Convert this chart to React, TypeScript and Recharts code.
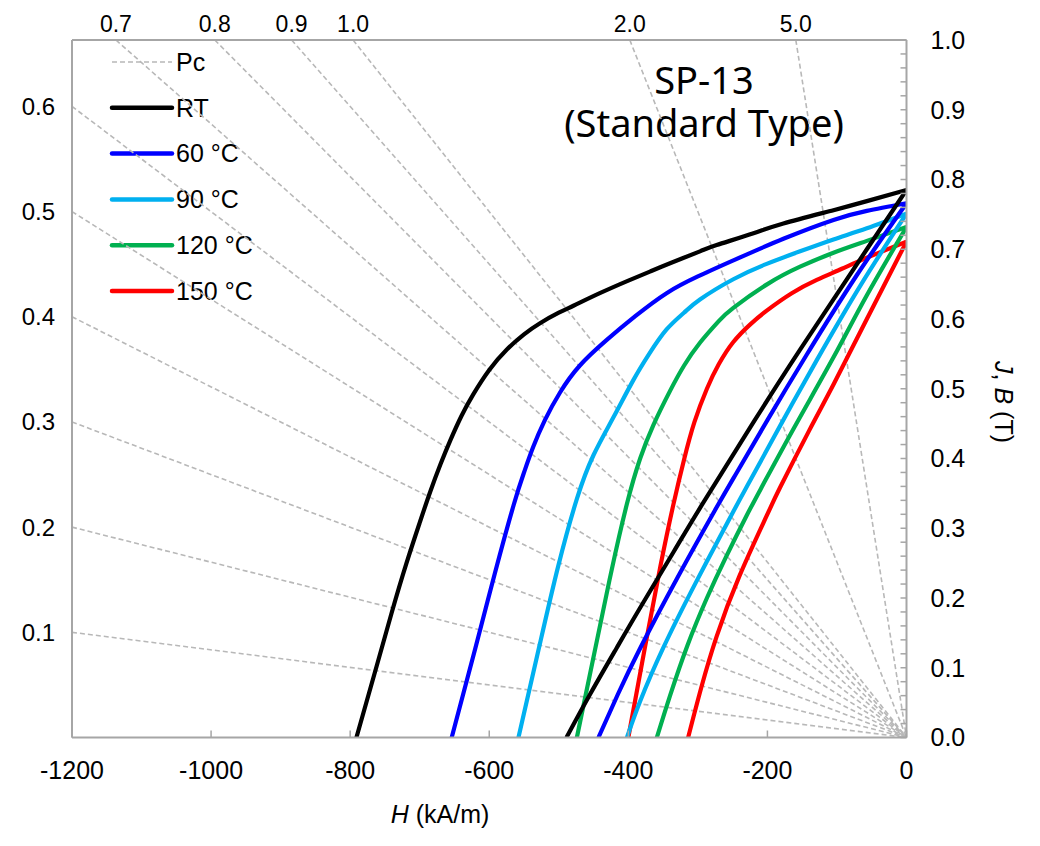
import React from 'react';
import { LineChart, Line, XAxis, YAxis } from 'recharts';

// μ0 in T per (kA/m)
const MU0 = 4 * Math.PI * 1e-4;

const hTicks = [-1200, -1000, -800, -600, -400, -200, 0];
const bTicks = Array.from({ length: 51 }, (_, i) => Number((i * 0.02).toFixed(2)));
const pcLeftTicks = [0.1, 0.2, 0.3, 0.4, 0.5, 0.6];
const pcTopTicks = [0.7, 0.8, 0.9, 1.0, 2.0, 5.0];
const pcValues = [0.1, 0.2, 0.3, 0.4, 0.5, 0.6, 0.7, 0.8, 0.9, 1.0, 2.0, 5.0];

const seriesNames = ['RT', '60 °C', '90 °C', '120 °C', '150 °C'];

// intrinsic J curves [H kA/m, J T]
const jRT = [[-791, 0], [-764, 0.095], [-740, 0.18], [-719, 0.25], [-700, 0.308], [-685, 0.352], [-670, 0.392], [-656, 0.426], [-640, 0.461], [-623, 0.492], [-600, 0.527], [-575, 0.556], [-550, 0.578], [-527, 0.594], [-500, 0.609], [-479, 0.619], [-441, 0.637], [-400, 0.655], [-369, 0.668], [-340, 0.68], [-297, 0.697], [-273, 0.706], [-220, 0.723], [-177, 0.737], [-105, 0.756], [-57, 0.769], [0, 0.785]];
const j60 = [[-654, 0], [-620, 0.128], [-592, 0.235], [-565, 0.333], [-550, 0.38], [-537, 0.416], [-520, 0.455], [-498, 0.495], [-470, 0.533], [-431, 0.57], [-390, 0.604], [-345, 0.637], [-300, 0.661], [-249, 0.684], [-177, 0.715], [-105, 0.742], [-57, 0.755], [0, 0.766]];
const j90 = [[-558, 0], [-527, 0.135], [-501, 0.245], [-474, 0.342], [-450, 0.405], [-422, 0.458], [-393, 0.512], [-370, 0.55], [-345, 0.585], [-320, 0.609], [-297, 0.628], [-249, 0.657], [-201, 0.679], [-153, 0.697], [-105, 0.714], [-57, 0.73], [0, 0.751]];
const j120 = [[-474, 0], [-446, 0.135], [-424, 0.24], [-402, 0.335], [-383, 0.4], [-364, 0.448], [-340, 0.497], [-320, 0.533], [-297, 0.566], [-270, 0.597], [-249, 0.616], [-200, 0.65], [-153, 0.675], [-105, 0.695], [-57, 0.712], [0, 0.732]];
const j150 = [[-400, 0], [-376, 0.13], [-354, 0.245], [-335, 0.335], [-320, 0.398], [-305, 0.452], [-287, 0.5], [-270, 0.535], [-249, 0.567], [-225, 0.592], [-201, 0.612], [-165, 0.637], [-129, 0.656], [-93, 0.672], [-57, 0.688], [0, 0.711]];

// normal B curves [H kA/m, B T]
const bRT = [[-489, 0], [-455, 0.062], [-417, 0.128], [-383, 0.186], [-335, 0.266], [-292, 0.337], [-220, 0.452], [-153, 0.556], [-57, 0.7], [0, 0.785]];
const b60 = [[-443, 0], [-415, 0.062], [-383, 0.128], [-330, 0.228], [-273, 0.33], [-244, 0.38], [-200, 0.455], [-144, 0.548], [-72, 0.662], [0, 0.766]];
const b90 = [[-402, 0], [-383, 0.052], [-350, 0.128], [-303, 0.222], [-249, 0.324], [-225, 0.368], [-180, 0.45], [-129, 0.541], [-65, 0.65], [0, 0.751]];
const b120 = [[-359, 0], [-340, 0.06], [-315, 0.132], [-287, 0.2], [-260, 0.258], [-230, 0.318], [-206, 0.363], [-160, 0.447], [-105, 0.545], [-57, 0.634], [0, 0.732]];
const b150 = [[-314, 0], [-295, 0.072], [-273, 0.145], [-240, 0.232], [-201, 0.318], [-182, 0.358], [-140, 0.44], [-105, 0.506], [-57, 0.6], [0, 0.711]];

const jCurves = [jRT, j60, j90, j120, j150];
const bCurves = [bRT, b60, b90, b120, b150];

const COLORS = ['#000000', '#0000ff', '#00b0f0', '#00b050', '#ff0000'];
const AXIS = '#a6a6a6';
const PC_GRAY = '#b8b8b8';
const ARIAL = "'Liberation Sans', Arial, sans-serif";

const toPts = (arr: number[][]) => arr.map(([h, b]) => ({ h, b }));

// permeance line: from the plot edge to the origin
const pcLine = (pc: number) => {
  const bLeft = pc * MU0 * 1200;
  const edge = bLeft <= 1 ? { h: -1200, b: bLeft } : { h: -1 / (pc * MU0), b: 1 };
  return [edge, { h: 0, b: 0 }];
};

const BottomTick = (props: any) => {
  const { x, y, payload } = props;
  const axisY = y - 24;
  return (
    <g>
      <line x1={x} x2={x} y1={axisY} y2={axisY - 7} stroke={AXIS} strokeWidth={1.5} />
      <text x={x} y={y} dy="0.71em" textAnchor="middle" fontSize={25} fill="#000">
        {payload.value}
      </text>
    </g>
  );
};

const RightTick = (props: any) => {
  const { x, y, payload } = props;
  const v = payload.value;
  const axisX = x - 24;
  const major = Math.abs(v * 10 - Math.round(v * 10)) < 1e-6;
  return (
    <g>
      <line x1={axisX} x2={axisX - 6} y1={y} y2={y} stroke={AXIS} strokeWidth={1.5} />
      {major && (
        <text x={x} y={y} dy="0.355em" textAnchor="start" fontSize={25} fill="#000">
          {v.toFixed(1)}
        </text>
      )}
    </g>
  );
};

export default function App() {
  const legendRows = ['Pc', ...seriesNames];
  return (
    <div style={{ width: 1024, height: 830, fontFamily: ARIAL }}>
      <LineChart width={1024} height={830} margin={{ top: 0, right: 0, bottom: 0, left: 0 }}>
        <XAxis
          xAxisId="bottom"
          type="number"
          dataKey="h"
          domain={[-1200, 0]}
          allowDataOverflow
          ticks={hTicks}
          interval={0}
          height={100.5}
          tickSize={0}
          tickMargin={24}
          tick={<BottomTick />}
          axisLine={{ stroke: AXIS, strokeWidth: 2 }}
          tickLine={false}
        />
        <XAxis
          xAxisId="top"
          orientation="top"
          type="number"
          dataKey="h"
          domain={[-1200, 0]}
          allowDataOverflow
          ticks={pcTopTicks.map((pc) => -1 / (pc * MU0))}
          tickFormatter={(v: number) => (-1 / (v * MU0)).toFixed(1)}
          interval={0}
          height={32}
          tickSize={0}
          tickMargin={8}
          tick={{ fill: '#000', fontSize: 23 }}
          axisLine={{ stroke: AXIS, strokeWidth: 2 }}
          tickLine={false}
        />
        <YAxis
          yAxisId="pc"
          orientation="left"
          type="number"
          domain={[0, 1 / (MU0 * 1200)]}
          allowDataOverflow
          ticks={pcLeftTicks}
          tickFormatter={(v: number) => v.toFixed(1)}
          interval={0}
          width={64}
          tickSize={0}
          tickMargin={17}
          tick={{ fill: '#000', fontSize: 24 }}
          axisLine={{ stroke: AXIS, strokeWidth: 2 }}
          tickLine={false}
        />
        <YAxis
          yAxisId="b"
          orientation="right"
          type="number"
          domain={[0, 1]}
          allowDataOverflow
          ticks={bTicks}
          interval={0}
          width={125.5}
          tickSize={0}
          tickMargin={24}
          tick={<RightTick />}
          axisLine={{ stroke: AXIS, strokeWidth: 2 }}
          tickLine={false}
        />

        {pcValues.map((pc) => (
          <Line
            key={`pc-${pc}`}
            xAxisId="bottom"
            yAxisId="b"
            data={pcLine(pc)}
            dataKey="b"
            type="linear"
            stroke={PC_GRAY}
            strokeWidth={1.6}
            strokeDasharray="5 3"
            dot={false}
            activeDot={false}
            isAnimationActive={false}
            legendType="none"
          />
        ))}
        {jCurves.map((c, i) => (
          <Line
            key={`j-${i}`}
            name={seriesNames[i]}
            xAxisId="bottom"
            yAxisId="b"
            data={toPts(c)}
            dataKey="b"
            type="natural"
            stroke={COLORS[i]}
            strokeWidth={4.2}
            dot={false}
            activeDot={false}
            isAnimationActive={false}
          />
        ))}
        {bCurves.map((c, i) => (
          <Line
            key={`b-${i}`}
            xAxisId="bottom"
            yAxisId="b"
            data={toPts(c)}
            dataKey="b"
            type="natural"
            stroke={COLORS[i]}
            strokeWidth={4.2}
            dot={false}
            activeDot={false}
            isAnimationActive={false}
          />
        ))}

        {/* legend */}
        {legendRows.map((name, i) => {
          const y = 54 + i * 45.8;
          const isPc = i === 0;
          return (
            <g key={name}>
              <line
                x1={104}
                x2={164}
                y1={y}
                y2={y}
                stroke={isPc ? PC_GRAY : COLORS[i - 1]}
                strokeWidth={isPc ? 1.6 : 4.5}
                strokeDasharray={isPc ? '5 3' : undefined}
                strokeLinecap={isPc ? 'butt' : 'round'}
              />
              <text x={168} y={y} dy="0.355em" fontSize={25} fill="#000">
                {name}
              </text>
            </g>
          );
        })}

        {/* title */}
        <text x={696} y={86} textAnchor="middle" fontSize={38} fontFamily="'Noto Sans', sans-serif" fill="#000">
          SP-13
        </text>
        <text x={696} y={129} textAnchor="middle" fontSize={38} fontFamily="'Noto Sans', sans-serif" fill="#000">
          (Standard Type)
        </text>

        {/* axis titles */}
        <text x={432} y={815} textAnchor="middle" fontSize={25} fill="#000">
          <tspan fontStyle="italic">H</tspan> (kA/m)
        </text>
        <text
          x={996}
          y={394}
          textAnchor="middle"
          dy="0.355em"
          fontSize={25}
          fill="#000"
          transform="rotate(90, 996, 394)"
        >
          <tspan fontStyle="italic">J</tspan>, <tspan fontStyle="italic">B</tspan> (T)
        </text>
      </LineChart>
    </div>
  );
}
